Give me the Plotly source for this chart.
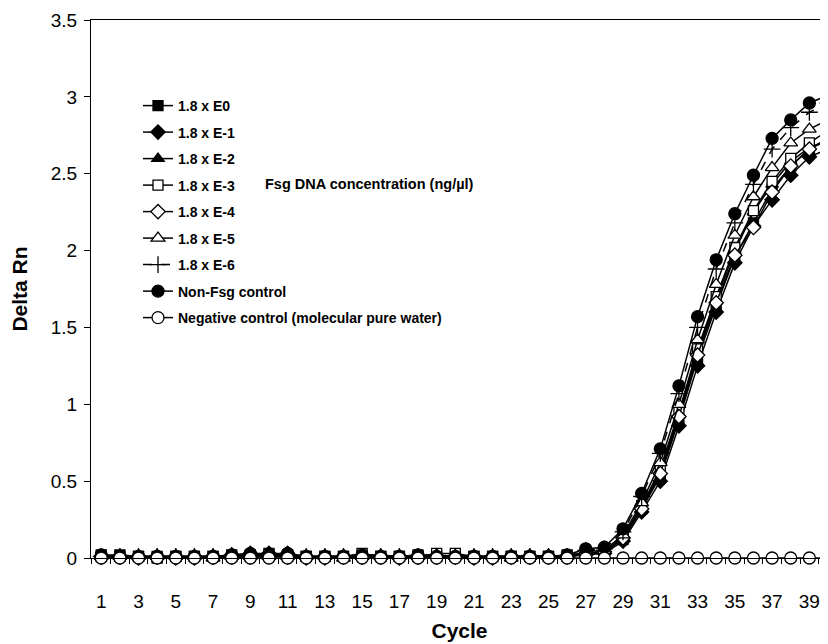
import plotly.graph_objects as go

cycles = list(range(1, 41))

base_e0 = [0.02, 0.02, 0.01, 0.01, 0.01, 0.01, 0.01, 0.02, 0.02, 0.03, 0.02, 0.01, 0.01,
           0.01, 0.02, 0.01, 0.01, 0.02, 0.01, 0.01, 0.01, 0.01, 0.01, 0.01, 0.01, 0.02]
base_e1 = [0.01, 0.01, 0.01, 0.01, 0.01, 0.00, 0.01, 0.02, 0.03, 0.03, 0.03, 0.01, 0.00,
           0.01, 0.01, 0.01, 0.01, 0.01, 0.01, 0.01, 0.00, 0.01, 0.01, 0.01, 0.01, 0.01]
base_e2 = [0.01, 0.02, 0.01, 0.01, 0.01, 0.01, 0.01, 0.01, 0.02, 0.02, 0.02, 0.01, 0.01,
           0.01, 0.02, 0.02, 0.01, 0.02, 0.02, 0.01, 0.01, 0.01, 0.01, 0.02, 0.01, 0.01]
base_e3 = [0.01, 0.01, 0.01, 0.00, 0.01, 0.01, 0.01, 0.01, 0.01, 0.02, 0.01, 0.01, 0.01,
           0.01, 0.03, 0.01, 0.01, 0.01, 0.03, 0.03, 0.01, 0.01, 0.01, 0.01, 0.01, 0.01]
base_e4 = [0.01, 0.01, 0.00, 0.01, 0.00, 0.01, 0.01, 0.01, 0.01, 0.01, 0.01, 0.00, 0.01,
           0.01, 0.01, 0.01, 0.00, 0.01, 0.01, 0.01, 0.01, 0.00, 0.01, 0.01, 0.01, 0.01]
base_e5 = [0.01, 0.01, 0.01, 0.01, 0.01, 0.01, 0.00, 0.01, 0.01, 0.01, 0.01, 0.01, 0.01,
           0.00, 0.01, 0.01, 0.01, 0.01, 0.02, 0.01, 0.01, 0.01, 0.00, 0.01, 0.01, 0.01]
base_e6 = [0.01, 0.01, 0.01, 0.01, 0.01, 0.01, 0.01, 0.01, 0.01, 0.02, 0.01, 0.01, 0.01,
           0.01, 0.01, 0.01, 0.01, 0.01, 0.01, 0.01, 0.01, 0.01, 0.01, 0.01, 0.01, 0.01]
base_nf = [0.02, 0.01, 0.01, 0.01, 0.01, 0.01, 0.01, 0.02, 0.03, 0.02, 0.03, 0.01, 0.01,
           0.01, 0.02, 0.01, 0.01, 0.02, 0.01, 0.01, 0.01, 0.01, 0.01, 0.01, 0.01, 0.02]

rise_e0 = [0.02, 0.04, 0.12, 0.32, 0.53, 0.90, 1.30, 1.64, 1.96, 2.18, 2.40, 2.55, 2.66, 2.73]
rise_e1 = [0.02, 0.03, 0.11, 0.30, 0.50, 0.86, 1.25, 1.60, 1.92, 2.16, 2.33, 2.49, 2.61, 2.66]
rise_e2 = [0.03, 0.04, 0.13, 0.33, 0.56, 0.93, 1.34, 1.68, 2.00, 2.25, 2.43, 2.58, 2.67, 2.72]
rise_e3 = [0.03, 0.04, 0.14, 0.34, 0.58, 0.95, 1.36, 1.70, 2.02, 2.26, 2.45, 2.60, 2.70, 2.78]
rise_e4 = [0.03, 0.04, 0.13, 0.32, 0.55, 0.92, 1.32, 1.66, 1.97, 2.15, 2.38, 2.55, 2.66, 2.72]
rise_e5 = [0.04, 0.05, 0.15, 0.36, 0.62, 1.00, 1.42, 1.78, 2.10, 2.35, 2.54, 2.70, 2.79, 2.85]
rise_e6 = [0.05, 0.06, 0.17, 0.40, 0.68, 1.07, 1.50, 1.88, 2.18, 2.43, 2.66, 2.80, 2.90, 2.96]
rise_nf = [0.06, 0.07, 0.19, 0.42, 0.71, 1.12, 1.57, 1.94, 2.24, 2.49, 2.73, 2.85, 2.96, 3.01]

negative = [0.0] * 40

series = [
    ("1.8 x E0", base_e0 + rise_e0, "square", "black", 10, "solid"),
    ("1.8 x E-1", base_e1 + rise_e1, "diamond", "black", 11, "solid"),
    ("1.8 x E-2", base_e2 + rise_e2, "triangle-up", "black", 11, "solid"),
    ("1.8 x E-3", base_e3 + rise_e3, "square", "white", 10, "solid"),
    ("1.8 x E-4", base_e4 + rise_e4, "diamond", "white", 11, "solid"),
    ("1.8 x E-5", base_e5 + rise_e5, "triangle-up", "white", 12, "solid"),
    ("1.8 x E-6", base_e6 + rise_e6, "cross-thin", "black", 12, "dash"),
    ("Non-Fsg control", base_nf + rise_nf, "circle", "black", 12, "solid"),
    ("Negative control (molecular pure water)", negative, "circle", "white", 12, "solid"),
]

font_family = "Arial, Liberation Sans, sans-serif"

# The page body has an 8px margin; the figure is sized so that it ends at 828x644.
W, H = 820, 636
L, T = 83, 12
PW = 828 - 91          # plot width on screen
PH = 558 - 20          # plot height on screen

fig = go.Figure()
for i, (name, vals, sym, fill, size, dash) in enumerate(series):
    fig.add_trace(go.Scatter(
        x=cycles, y=vals, name=f"<b>{name}</b>", mode="lines+markers",
        line=dict(color="black", width=1.5, dash=dash),
        marker=dict(symbol=sym, color=fill, size=size,
                    line=dict(color="black", width=1.3)),
        cliponaxis=False, legendgroup=f"g{i}",
    ))

fig.add_annotation(
    text="<b>Fsg DNA concentration (ng/µl)</b>", xref="paper", yref="paper",
    x=(263 - 91) / PW, y=(558 - 184) / PH, xanchor="left", yanchor="middle",
    showarrow=False, font=dict(size=14.5, color="black", family=font_family),
)

fig.update_layout(
    width=W, height=H,
    margin=dict(l=L, r=0, t=T, b=H - (558 - 8), autoexpand=False),
    paper_bgcolor="white", plot_bgcolor="white",
    font=dict(family=font_family, color="black"),
    showlegend=True,
    legend=dict(
        x=(138 - 91) / PW, y=(558 - 90) / PH, xanchor="left", yanchor="top",
        bgcolor="rgba(0,0,0,0)", font=dict(size=14, color="black", family=font_family),
        tracegroupgap=5.3, traceorder="grouped", itemwidth=30,
    ),
    xaxis=dict(
        range=[0.45, 40.0], tickmode="linear", tick0=1, dtick=2,
        ticks="", showgrid=False, zeroline=False,
        showline=True, linecolor="black", linewidth=1, mirror=True,
        tickfont=dict(size=19), ticklabelstandoff=26,
        minor=dict(ticks="outside", tick0=0.5, dtick=1, ticklen=5,
                   tickcolor="black", tickwidth=1, showgrid=False),
        title=dict(text="<b>Cycle</b>", font=dict(size=21), standoff=12),
    ),
    yaxis=dict(
        range=[0, 3.5], tickmode="linear", tick0=0, dtick=0.5,
        ticks="outside", ticklen=6, tickcolor="black",
        showgrid=False, zeroline=False,
        showline=True, linecolor="black", linewidth=1,
        tickfont=dict(size=19), ticklabelstandoff=3,
        title=dict(text="<b>Delta Rn</b>", font=dict(size=21), standoff=20),
    ),
)

fig.write_html("out.html")
